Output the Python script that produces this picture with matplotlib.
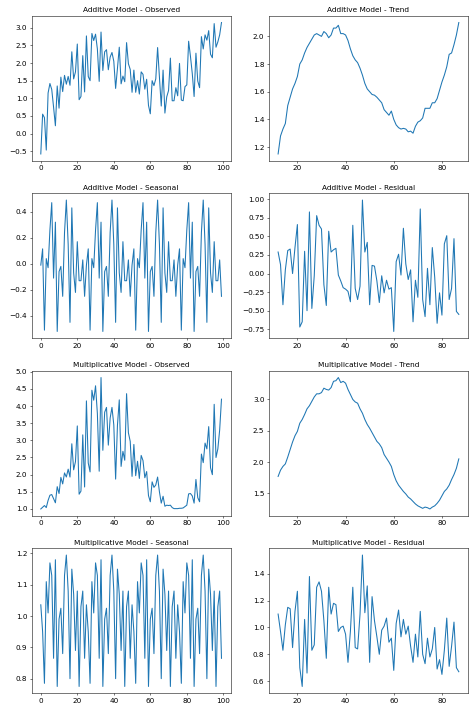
import matplotlib
matplotlib.use("Agg")
import matplotlib.pyplot as plt
from matplotlib.ticker import MultipleLocator

idx = list(range(100))
trend_idx = list(range(12, 88))

add_observed = [-0.58, 0.55, 0.45, -0.47, 1.15, 1.42, 1.25, 0.75, 0.22, 1.35,
                0.72, 1.60, 1.19, 1.65, 1.40, 1.62, 1.37, 2.32, 1.55, 1.75,
                2.54, 0.96, 1.05, 2.21, 1.18, 2.77, 1.62, 1.50, 2.84, 2.64,
                2.82, 2.40, 1.48, 2.88, 1.79, 2.32, 2.38, 1.81, 2.17, 2.30,
                2.05, 1.28, 1.85, 2.45, 1.41, 1.63, 1.47, 2.58, 1.98, 1.82,
                1.17, 1.80, 1.17, 1.50, 1.12, 1.75, 1.68, 1.26, 1.54, 0.80,
                0.56, 1.50, 1.36, 1.55, 2.44, 1.60, 0.78, 1.80, 0.58, 1.04,
                1.22, 2.14, 0.93, 0.93, 1.30, 1.07, 1.99, 0.95, 0.93, 1.33,
                1.38, 2.62, 2.19, 1.70, 1.05, 2.28, 1.49, 1.30, 2.75, 2.40,
                2.80, 2.65, 2.92, 2.25, 2.15, 3.12, 2.45, 2.60, 2.80, 3.15]

add_trend = [1.15, 1.28, 1.33, 1.37, 1.50, 1.56, 1.62, 1.66, 1.71, 1.80,
             1.83, 1.88, 1.92, 1.95, 1.98, 2.01, 2.02, 2.01, 2.00, 2.035,
             2.02, 1.99, 2.01, 2.06, 2.06, 2.08, 2.02, 2.02, 2.01, 1.97,
             1.91, 1.86, 1.83, 1.81, 1.77, 1.72, 1.66, 1.62, 1.60, 1.58,
             1.575, 1.56, 1.54, 1.52, 1.47, 1.45, 1.43, 1.46, 1.40, 1.36,
             1.34, 1.33, 1.335, 1.33, 1.31, 1.315, 1.30, 1.35, 1.38, 1.39,
             1.41, 1.48, 1.48, 1.48, 1.52, 1.52, 1.55, 1.61, 1.67, 1.72,
             1.78, 1.87, 1.88, 1.94, 2.01, 2.10]

add_seasonal = [-0.01, 0.115, -0.51, 0.04, -0.03, 0.26, 0.47, -0.11, 0.32, -0.52,
                -0.06, -0.02, -0.25, 0.24, 0.49, 0.15, -0.45, 0.43, -0.07, -0.22,
                0.17, -0.13, -0.13, 0.03, -0.25,
                -0.01, 0.115, -0.51, 0.04, -0.03, 0.26, 0.47, -0.11, 0.32, -0.52,
                -0.06, -0.02, -0.25, 0.24, 0.49, 0.15, -0.45, 0.43, -0.07, -0.22,
                0.17, -0.13, -0.13, 0.03, -0.25,
                -0.01, 0.115, -0.51, 0.04, -0.03, 0.26, 0.47, -0.11, 0.32, -0.52,
                -0.06, -0.02, -0.25, 0.24, 0.49, 0.15, -0.45, 0.43, -0.07, -0.22,
                0.17, -0.13, -0.13, 0.03, -0.25,
                -0.01, 0.115, -0.51, 0.04, -0.03, 0.26, 0.47, -0.11, 0.32, -0.52,
                -0.06, -0.02, -0.25, 0.24, 0.49, 0.15, -0.45, 0.43, -0.07, -0.22,
                0.17, -0.13, -0.13, 0.03, -0.25]

add_resid = [0.29, 0.12, -0.42, 0.05, 0.31, 0.33, 0.00, 0.35, 0.66, -0.72,
             -0.65, 0.30, -0.50, 0.83, -0.47, -0.03, 0.78, 0.65, 0.60, -0.15,
             -0.43, 0.57, 0.29, 0.32, 0.34, -0.02, -0.10, -0.19, -0.21, -0.24,
             -0.38, 0.65, -0.20, -0.35, -0.17, 0.99, 0.29, 0.42, -0.42, 0.11,
             0.10, -0.10, -0.39, -0.03, -0.26, -0.09, -0.21, -0.19, -0.78, 0.16,
             0.26, -0.02, 0.61, 0.13, -0.08, 0.05, -0.65, -0.09, -0.32, 0.87,
             -0.35, -0.58, 0.07, -0.42, 0.35, -0.05, -0.67, -0.26, -0.56, 0.40,
             0.51, -0.35, -0.20, 0.47, -0.51, -0.55]

mul_observed = [1.00, 1.05, 1.10, 1.04, 1.25, 1.40, 1.42, 1.30, 1.18, 1.65,
                1.45, 1.92, 1.73, 2.05, 1.93, 2.16, 1.93, 2.90, 2.14, 2.38,
                3.42, 1.43, 1.52, 3.16, 1.64, 4.15, 2.34, 2.08, 4.46, 4.17,
                4.59, 3.78, 2.10, 4.83, 2.71, 3.82, 3.96, 2.86, 3.65, 3.96,
                3.45, 1.87, 3.44, 4.18, 2.24, 2.68, 2.42, 4.36, 3.22, 2.97,
                1.95, 2.88, 1.97, 2.39, 1.89, 2.56, 2.41, 1.91, 2.09, 1.39,
                1.21, 1.79, 1.63, 1.70, 1.93, 1.50, 1.17, 1.37, 1.08, 1.11,
                1.10, 1.11, 1.04, 1.01, 1.01, 1.01, 1.02, 1.02, 1.03, 1.07,
                1.11, 1.44, 1.45, 1.38, 1.17, 1.86, 1.33, 1.21, 2.60, 2.35,
                2.92, 2.75, 3.40, 2.20, 2.00, 4.05, 2.50, 2.75, 3.30, 4.20]

mul_trend = [1.77, 1.87, 1.93, 1.97, 2.08, 2.20, 2.32, 2.42, 2.49, 2.62,
             2.68, 2.76, 2.85, 2.90, 2.97, 3.04, 3.09, 3.09, 3.11, 3.18,
             3.16, 3.15, 3.19, 3.29, 3.30, 3.35, 3.27, 3.29, 3.26, 3.16,
             3.08, 3.00, 2.96, 2.94, 2.85, 2.78, 2.68, 2.60, 2.54, 2.47,
             2.40, 2.33, 2.29, 2.23, 2.12, 2.06, 2.00, 1.93, 1.80, 1.70,
             1.63, 1.58, 1.53, 1.49, 1.44, 1.41, 1.37, 1.33, 1.30, 1.28,
             1.26, 1.28, 1.27, 1.25, 1.28, 1.30, 1.34, 1.39, 1.46, 1.53,
             1.57, 1.63, 1.72, 1.80, 1.90, 2.05]

mul_seasonal = [1.036, 0.95, 0.785, 1.11, 1.01, 1.17, 1.13, 0.865, 1.18, 0.775,
                0.99, 1.025, 0.88, 1.13, 1.195, 1.08, 0.80, 1.15, 1.07, 0.89,
                1.08, 0.775, 1.03, 1.08, 0.865,
                1.036, 0.95, 0.785, 1.11, 1.01, 1.17, 1.13, 0.865, 1.18, 0.775,
                0.99, 1.025, 0.88, 1.13, 1.195, 1.08, 0.80, 1.15, 1.07, 0.89,
                1.08, 0.775, 1.03, 1.08, 0.865,
                1.036, 0.95, 0.785, 1.11, 1.01, 1.17, 1.13, 0.865, 1.18, 0.775,
                0.99, 1.025, 0.88, 1.13, 1.195, 1.08, 0.80, 1.15, 1.07, 0.89,
                1.08, 0.775, 1.03, 1.08, 0.865,
                1.036, 0.95, 0.785, 1.11, 1.01, 1.17, 1.13, 0.865, 1.18, 0.775,
                0.99, 1.025, 0.88, 1.13, 1.195, 1.08, 0.80, 1.15, 1.07, 0.89,
                1.08, 0.775, 1.03, 1.08, 0.865]

mul_resid = [1.10, 0.97, 0.83, 1.02, 1.15, 1.14, 0.85, 1.12, 1.27, 0.70,
             0.56, 1.06, 0.66, 1.38, 0.83, 0.87, 1.30, 1.34, 1.27, 1.05,
             0.77, 1.30, 1.10, 1.18, 1.17, 0.97, 1.00, 1.01, 0.95, 0.74,
             0.97, 1.30, 0.85, 0.84, 1.10, 1.54, 1.11, 1.31, 0.74, 1.23,
             1.05, 0.93, 0.80, 0.98, 1.01, 1.07, 0.89, 0.92, 0.68, 1.03,
             1.13, 0.93, 1.06, 0.95, 1.01, 0.86, 0.74, 0.95, 0.78, 1.12,
             0.80, 0.73, 0.92, 0.78, 0.84, 1.00, 0.69, 0.76, 0.65, 0.83,
             1.07, 0.71, 0.86, 1.04, 0.70, 0.67]

titles = ["Additive Model - Observed", "Additive Model - Trend",
          "Additive Model - Seasonal", "Additive Model - Residual",
          "Multiplicative Model - Observed", "Multiplicative Model - Trend",
          "Multiplicative Model - Seasonal", "Multiplicative Model - Residual"]

panels = [(idx, add_observed), (trend_idx, add_trend),
          (idx, add_seasonal), (trend_idx, add_resid),
          (idx, mul_observed), (trend_idx, mul_trend),
          (idx, mul_seasonal), (trend_idx, mul_resid)]

dpi = 47.4
fig, axes = plt.subplots(4, 2, figsize=(474 / dpi, 713 / dpi), dpi=dpi)
fig.subplots_adjust(left=0.067, right=0.987, top=0.9776, bottom=0.028,
                    wspace=0.194, hspace=0.228)

for ax, (xs, ys), t in zip(axes.flat, panels, titles):
    ax.plot(xs, ys, color="#1f77b4", linewidth=1.6)
    ax.set_title(t, fontsize=11.3)
    ax.tick_params(labelsize=11)
    ax.xaxis.set_major_locator(MultipleLocator(20))

fig.savefig("out.png", dpi=dpi)
